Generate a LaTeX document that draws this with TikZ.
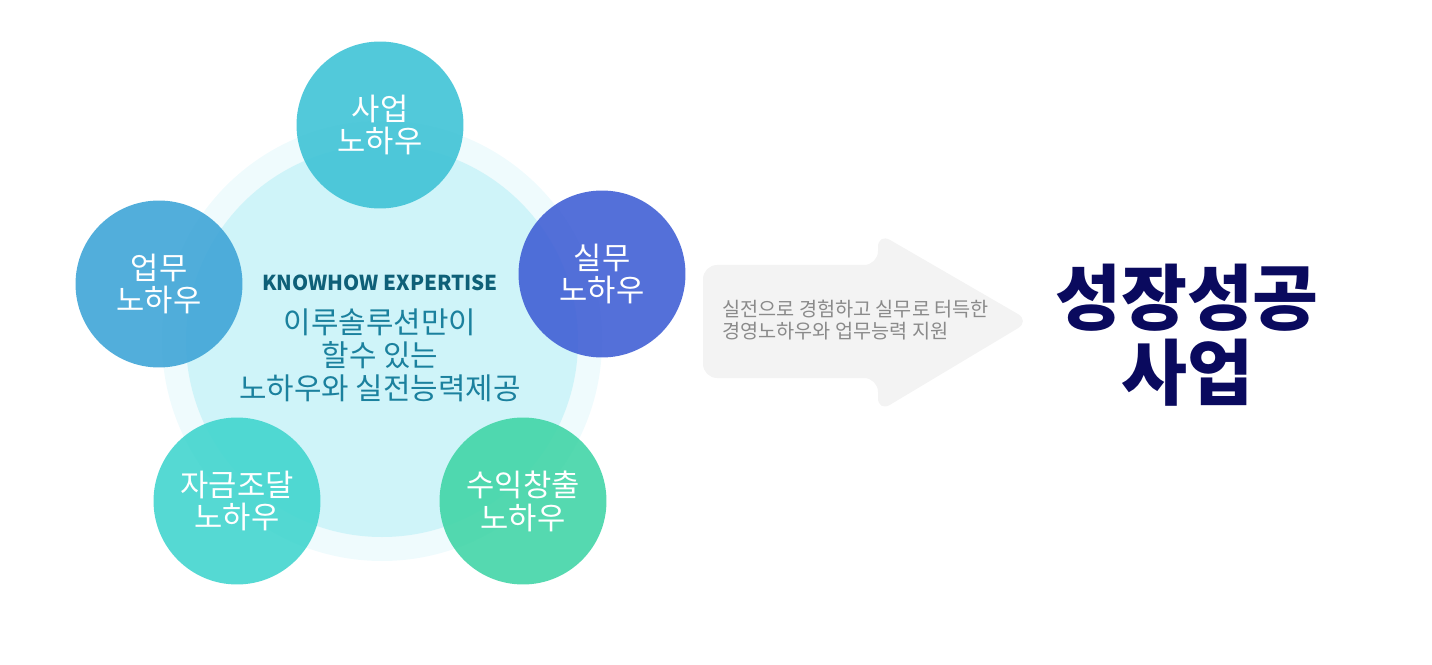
\documentclass[tikz,border=0pt]{standalone}
\usepackage{fontspec}
\setmainfont{Noto Sans CJK KR}
\usepackage{tikz}

\definecolor{ringout}{HTML}{EFFBFD}
\definecolor{ringin}{HTML}{CFF4F9}
\definecolor{saeop}{RGB}{63,195,214}
\definecolor{silmu}{RGB}{65,96,213}
\definecolor{eopmu}{RGB}{63,165,215}
\definecolor{jageum}{RGB}{66,213,206}
\definecolor{suik}{RGB}{66,213,167}
\definecolor{expert}{HTML}{0E6078}
\definecolor{centertext}{HTML}{1B819E}
\definecolor{arrowgray}{HTML}{F3F3F3}
\definecolor{arrowtext}{HTML}{8A8A8A}
\definecolor{navy}{HTML}{0A0A5E}

\tikzset{
  knowhow/.style={circle, minimum size=3.34cm, inner sep=0pt, fill=#1, fill opacity=0.9,
    text opacity=1, text=white, align=center, font=\fontsize{17.5}{18.7}\selectfont}
}

\begin{document}
\begin{tikzpicture}[x=0.02cm, y=-0.02cm]
    \useasboundingbox (0,0) rectangle (1432,665);
    % rings behind the pentagon
    \fill[color=ringout] (382,341) circle (220);
    \fill[color=ringin] (382,341) circle (196);
    \node[font=\bfseries\fontsize{11.7}{14}\selectfont, text=expert] (expertise) at (380,283) {KNOWHOW EXPERTISE};
    \node[font=\fontsize{17}{18.7}\selectfont, text=centertext, align=center] (solution) at (380,355)
        {이루솔루션만이\\할수 있는\\노하우와 실전능력제공};
    % five knowhow circles
    \node[knowhow=saeop] (business) at (380,125) {사업\\노하우};
    \node[knowhow=silmu] (practice) at (602,274) {실무\\노하우};
    \node[knowhow=eopmu] (work) at (159,284) {업무\\노하우};
    \node[knowhow=jageum] (funding) at (237,501) {자금조달\\노하우};
    \node[knowhow=suik] (profit) at (523,501) {수익창출\\노하우};
    % arrow
    \fill[color=arrowgray, rounded corners=8] (703,265) -- (878,265) -- (878,233) -- (1030,321)
        -- (878,412) -- (878,378) -- (703,378) -- cycle;
    \node[anchor=west, align=left, text=arrowtext, font=\fontsize{11.2}{12.5}\selectfont] (support) at (716,320)
        {실전으로 경험하고 실무로 터득한\\경영노하우와 업무능력 지원};
    \node[align=center, text=navy, font=\bfseries\fontsize{40.8}{43}\selectfont] (growth) at (1187,335)
        {성장성공\\사업};
\end{tikzpicture}
\end{document}
